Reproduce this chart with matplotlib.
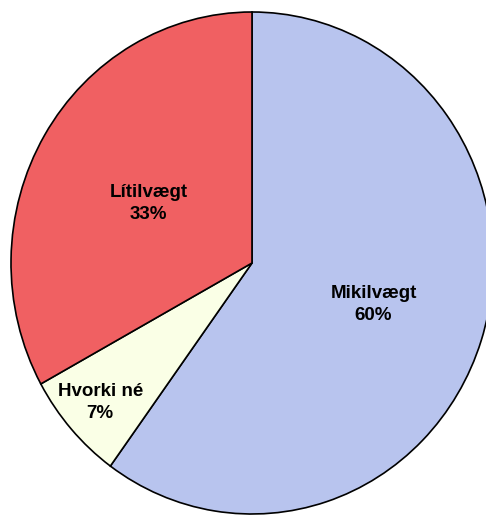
import numpy as np
import matplotlib.pyplot as plt

# Gögn
flokkar = ['Mikilvægt', 'Hvorki né', 'Lítilvægt']
hlutfall = [60, 7, 33]
litir = ['#B8C4EE', '#FAFFE6', '#F06062']
fjarlaegd = [0.53, 0.84, 0.49]

fig = plt.figure(figsize=(4.86, 5.15), dpi=100)
ax = fig.add_axes([0, 0, 1, 1])

wedges, _ = ax.pie(hlutfall, colors=litir, startangle=90, counterclock=False,
                   radius=1.0, wedgeprops=dict(edgecolor='black', linewidth=1.2))

# merkingar inni í sneiðunum
for w, nafn, p, d in zip(wedges, flokkar, hlutfall, fjarlaegd):
    horn = np.deg2rad((w.theta1 + w.theta2) / 2 + 1.5 * (nafn == 'Lítilvægt'))
    ax.text(d * np.cos(horn), d * np.sin(horn), f'{nafn}\n{p}%',
            ha='center', va='center', fontsize=13.5, fontweight='bold',
            family='Liberation Sans', linespacing=1.4)

ax.set_aspect('auto')
ax.set_xlim(-252 / 241, (486 - 252) / 241)
ax.set_ylim(-(515 - 263) / 251, 263 / 251)
ax.axis('off')

fig.savefig('out.png', dpi=100)
